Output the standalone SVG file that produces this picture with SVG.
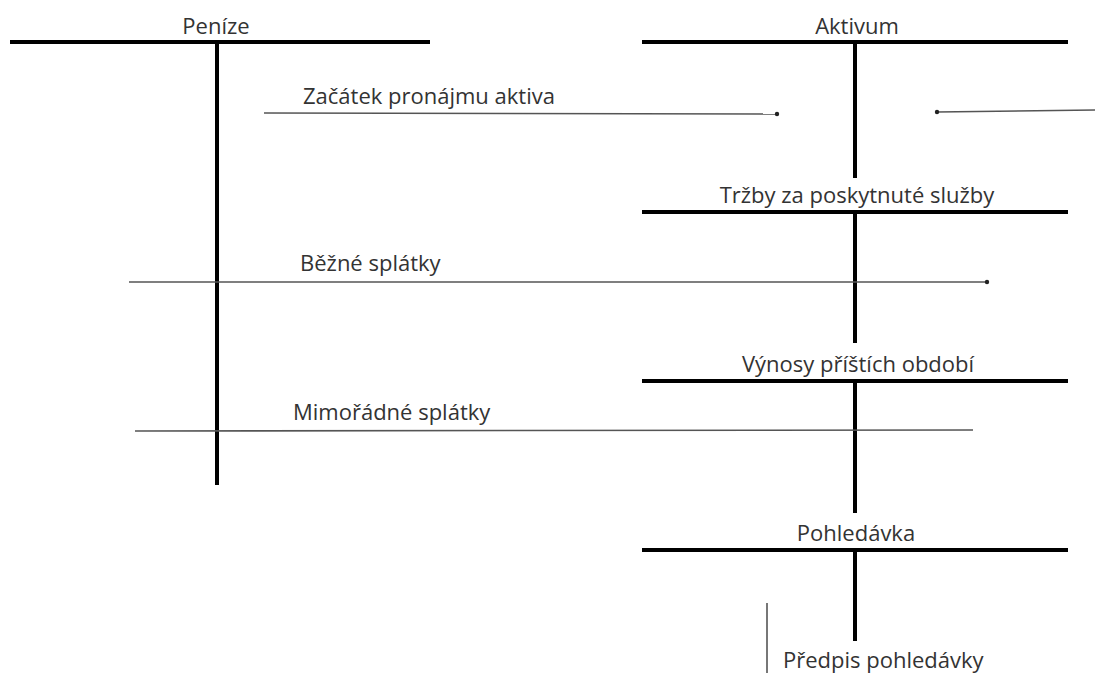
<svg xmlns="http://www.w3.org/2000/svg" width="1099" height="675" viewBox="0 0 1099 675">
<style>
.t{stroke:#000;stroke-width:4;fill:none}
.c{stroke:#555;stroke-width:1.6;fill:none}
.l{font-family:"Open Sans","Noto Sans",sans-serif;font-size:22px;fill:#333}
</style>
<defs>
<marker id="dot" markerWidth="6" markerHeight="6" refX="3" refY="3" markerUnits="userSpaceOnUse"><circle cx="3" cy="3" r="2.2" fill="#222"/></marker>
</defs>
<rect width="1099" height="675" fill="#fff"/>
<g id="penize"><line class="t" x1="10" y1="42" x2="430" y2="42"/><line class="t" x1="217" y1="42" x2="217" y2="485"/><text class="l" x="216" y="34" text-anchor="middle">Peníze</text></g>
<g id="aktivum"><line class="t" x1="642" y1="42" x2="1068" y2="42"/><line class="t" x1="855" y1="42" x2="855" y2="178"/><text class="l" x="857" y="34" text-anchor="middle">Aktivum</text></g>
<g id="trzby"><line class="t" x1="642" y1="212" x2="1068" y2="212"/><line class="t" x1="855" y1="212" x2="855" y2="343"/><text class="l" x="857" y="203" text-anchor="middle">Tržby za poskytnuté služby</text></g>
<g id="vynosy"><line class="t" x1="642" y1="381" x2="1068" y2="381"/><line class="t" x1="855" y1="381" x2="855" y2="513"/><text class="l" x="858" y="372" text-anchor="middle">Výnosy příštích období</text></g>
<g id="pohledavka"><line class="t" x1="642" y1="550" x2="1068" y2="550"/><line class="t" x1="855" y1="550" x2="855" y2="641"/><text class="l" x="856" y="541" text-anchor="middle">Pohledávka</text></g>
<g id="predpis"><text class="l" x="783" y="668">Předpis pohledávky</text></g>
<g id="connectors">
<line class="c" x1="264" y1="113" x2="777" y2="114" marker-end="url(#dot)"/>
<text class="l" x="303" y="104">Začátek pronájmu aktiva</text>
<line class="c" x1="1095" y1="110" x2="937" y2="112" marker-end="url(#dot)"/>
<line class="c" x1="129" y1="282" x2="987" y2="282" marker-end="url(#dot)"/>
<text class="l" x="300" y="271">Běžné splátky</text>
<line class="c" x1="135" y1="431" x2="973" y2="430"/>
<text class="l" x="293" y="420">Mimořádné splátky</text>
<line class="c" x1="767" y1="603" x2="767" y2="673"/>
</g>
</svg>
